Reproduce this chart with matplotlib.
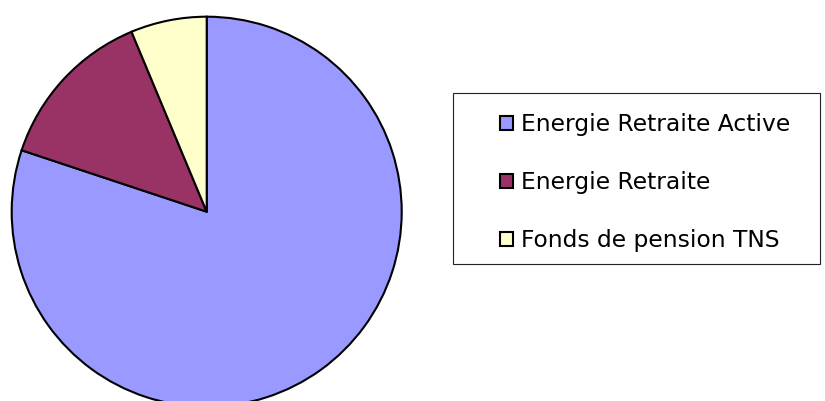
import matplotlib.pyplot as plt
from matplotlib.patches import Rectangle

# Pie shares (percent)
labels = ["Energie Retraite Active", "Energie Retraite", "Fonds de pension TNS"]
shares = [80.1, 13.6, 6.3]
colors = ["#9999FF", "#993366", "#FFFFCC"]

W, H = 825, 401
fig = plt.figure(figsize=(W / 100, H / 100), dpi=100, facecolor="white")

# axes spans the whole figure, one data unit = one pixel
ax = fig.add_axes([0, 0, 1, 1])
wedges, _ = ax.pie(shares, colors=colors, startangle=90, counterclock=False,
                   center=(206.7, H - 211.7), radius=195,
                   wedgeprops=dict(edgecolor="black", linewidth=1.5))
ax.set_xlim(0, W)
ax.set_ylim(0, H)
ax.set_aspect("equal")
ax.axis("off")

# legend frame (drawn inside the axes, under the legend)
frame = Rectangle((453, H - 264), 820 - 453, 264 - 92.7, facecolor="none",
                  edgecolor="#222222", linewidth=0.8, zorder=3, clip_on=False)
ax.add_patch(frame)

leg = ax.legend(wedges, labels, loc="upper left",
                bbox_to_anchor=(500 / W, 1 - 113.0 / H), bbox_transform=fig.transFigure,
                frameon=False, fontsize=16.8, borderpad=0, borderaxespad=0,
                handlelength=0.56, handleheight=0.56, handletextpad=0.34,
                labelspacing=1.50)
for h in leg.legend_handles:
    h.set_linewidth(1.5)

fig.savefig("out.png", dpi=100, facecolor="white")
